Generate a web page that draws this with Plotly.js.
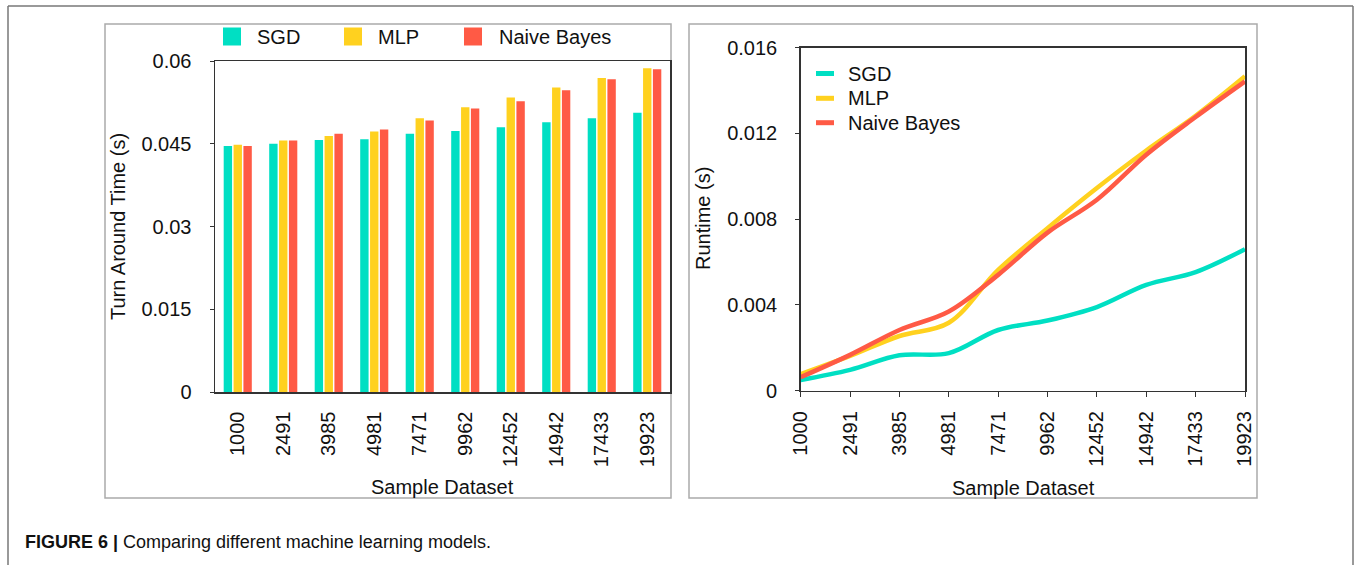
<!DOCTYPE html>
<html>
<head>
<meta charset="utf-8">
<script src="https://cdn.plot.ly/plotly-3.0.1.min.js"></script>
<style>html,body{margin:0;padding:0;background:#fff;}#chart{width:1356px;height:565px;}</style>
</head>
<body>
<div id="chart"></div>
<script>
// ---- data ----
const categories = ['1000','2491','3985','4981','7471','9962','12452','14942','17433','19923'];
const seriesNames = ['SGD','MLP','Naive Bayes'];
const turnaroundSGD = [0.0446,0.0450,0.0457,0.0458,0.0468,0.0473,0.0480,0.0489,0.0496,0.0506];
const turnaroundMLP = [0.0448,0.0456,0.0464,0.0472,0.0496,0.0516,0.0534,0.0552,0.0569,0.0587];
const turnaroundNB  = [0.0446,0.0456,0.0468,0.0476,0.0492,0.0514,0.0527,0.0547,0.0567,0.0585];
const runtimeSGD = [0.00050,0.00097,0.00165,0.00175,0.00283,0.00327,0.00390,0.00493,0.00553,0.00660];
const runtimeMLP = [0.00077,0.00162,0.00255,0.00317,0.00563,0.00758,0.00945,0.01120,0.01282,0.01466];
const runtimeNB  = [0.00063,0.00167,0.00283,0.00369,0.00540,0.00737,0.00890,0.01100,0.01276,0.01442];
const turnaroundTicks = [0,0.015,0.03,0.045,0.06];
const turnaroundTickText = ['0','0.015','0.03','0.045','0.06'];
const runtimeTicks = [0,0.004,0.008,0.012,0.016];
const runtimeTickText = ['0','0.004','0.008','0.012','0.016'];
const captionBold = 'FIGURE 6 |';
const captionText = 'Comparing different machine learning models.';

// ---- style ----
const colors = ['#00DFC3','#FFD11F','#FF5A45'];
const W = 1356, H = 565;
const FONT = '"Liberation Sans", Arial, Helvetica, sans-serif';
const px = x => x / W;
const py = y => 1 - y / H;

const barData = [turnaroundSGD, turnaroundMLP, turnaroundNB];
const lineData = [runtimeSGD, runtimeMLP, runtimeNB];

const traces = [];
barData.forEach((vals, i) => {
  traces.push({type:'bar', x:categories, y:vals, name:seriesNames[i], xaxis:'x', yaxis:'y',
    marker:{color:colors[i], line:{width:0}}, showlegend:false, hoverinfo:'x+y+name'});
});
lineData.forEach((vals, i) => {
  traces.push({type:'scatter', mode:'lines', x:categories, y:vals, name:seriesNames[i], xaxis:'x2', yaxis:'y2',
    line:{color:colors[i], width:4.5, shape:'spline', smoothing:1}, showlegend:false});
});

const axisCommon = {showline:true, mirror:true, linecolor:'#333', linewidth:1.5, showgrid:false, zeroline:false,
  tickfont:{size:20, color:'#111', family:FONT}};

const shapes = [
  // outer figure frame
  {type:'line', xref:'paper', yref:'paper', x0:px(8), x1:px(8), y0:py(6), y1:py(575), line:{color:'#777', width:1.5}},
  {type:'line', xref:'paper', yref:'paper', x0:px(8), x1:px(1353), y0:py(6), y1:py(6), line:{color:'#777', width:1.5}},
  {type:'line', xref:'paper', yref:'paper', x0:px(1353), x1:px(1353), y0:py(6), y1:py(575), line:{color:'#777', width:1.5}},
  // panel boxes
  {type:'rect', xref:'paper', yref:'paper', x0:px(105), x1:px(671), y0:py(24), y1:py(498), line:{color:'#aaa', width:1.5}, layer:'below'},
  {type:'rect', xref:'paper', yref:'paper', x0:px(689), x1:px(1257), y0:py(24), y1:py(498), line:{color:'#aaa', width:1.5}, layer:'below'}
];

const annotations = [];
// left legend (squares)
const sqX = [223, 344, 464];
const txtX = [255, 376, 497];
seriesNames.forEach((n, i) => {
  shapes.push({type:'rect', xref:'paper', yref:'paper', x0:px(sqX[i]), x1:px(sqX[i]+18), y0:py(27.5), y1:py(45.5),
    fillcolor:colors[i], line:{width:0}});
  annotations.push({xref:'paper', yref:'paper', x:px(txtX[i]), y:py(37.5), xanchor:'left', yanchor:'middle',
    text:n, showarrow:false, font:{size:20, color:'#111', family:FONT}});
});
// right legend (lines)
const lgY = [73.5, 98.3, 122.7];
seriesNames.forEach((n, i) => {
  shapes.push({type:'line', xref:'paper', yref:'paper', x0:px(816), x1:px(834), y0:py(lgY[i]), y1:py(lgY[i]),
    line:{color:colors[i], width:5}});
  annotations.push({xref:'paper', yref:'paper', x:px(846), y:py(lgY[i]), xanchor:'left', yanchor:'middle',
    text:n, showarrow:false, font:{size:20, color:'#111', family:FONT}});
});
// axis titles
const titleFont = {size:20, color:'#111', family:FONT};
annotations.push({xref:'paper', yref:'paper', x:px(442.5), y:py(487), xanchor:'center', yanchor:'middle', text:'Sample Dataset', showarrow:false, font:titleFont});
annotations.push({xref:'paper', yref:'paper', x:px(1023), y:py(488), xanchor:'center', yanchor:'middle', text:'Sample Dataset', showarrow:false, font:titleFont});
annotations.push({xref:'paper', yref:'paper', x:px(118), y:py(227), xanchor:'center', yanchor:'middle', textangle:-90, text:'Turn Around Time (s)', showarrow:false, font:titleFont});
annotations.push({xref:'paper', yref:'paper', x:px(703), y:py(219), xanchor:'center', yanchor:'middle', textangle:-90, text:'Runtime (s)', showarrow:false, font:titleFont});
// caption
annotations.push({xref:'paper', yref:'paper', x:px(23), y:py(542), xanchor:'left', yanchor:'middle',
  text:'<b>' + captionBold + '</b> ' + captionText, showarrow:false, font:{size:18, color:'#111', family:FONT}});

const layout = {
  width:W, height:H, margin:{l:0, r:0, t:0, b:0}, paper_bgcolor:'#fff', plot_bgcolor:'#fff',
  showlegend:false, font:{family:FONT, color:'#111'},
  barmode:'group', bargap:0.35, bargroupgap:0.15,
  xaxis: Object.assign({}, axisCommon, {domain:[px(215), px(670)], anchor:'y', type:'category',
    ticks:'', tickangle:-90, ticklabelstandoff:10}),
  yaxis: Object.assign({}, axisCommon, {domain:[py(392), py(61)], anchor:'x', range:[0,0.06],
    tickvals:turnaroundTicks, ticktext:turnaroundTickText, ticks:'outside', ticklen:4, tickcolor:'#333', ticklabelstandoff:14}),
  xaxis2: Object.assign({}, axisCommon, {domain:[px(800.7), px(1245)], anchor:'y2', type:'category', range:[0,9],
    ticks:'outside', ticklen:5, tickcolor:'#333', tickangle:-90, ticklabelstandoff:6}),
  yaxis2: Object.assign({}, axisCommon, {domain:[py(390.7), py(47.5)], anchor:'x2', range:[0,0.016],
    tickvals:runtimeTicks, ticktext:runtimeTickText, ticks:'outside', ticklen:4, tickcolor:'#333', ticklabelstandoff:14}),
  shapes:shapes, annotations:annotations
};

Plotly.newPlot('chart', traces, layout, {staticPlot:true, displayModeBar:false});
</script>
</body>
</html>
